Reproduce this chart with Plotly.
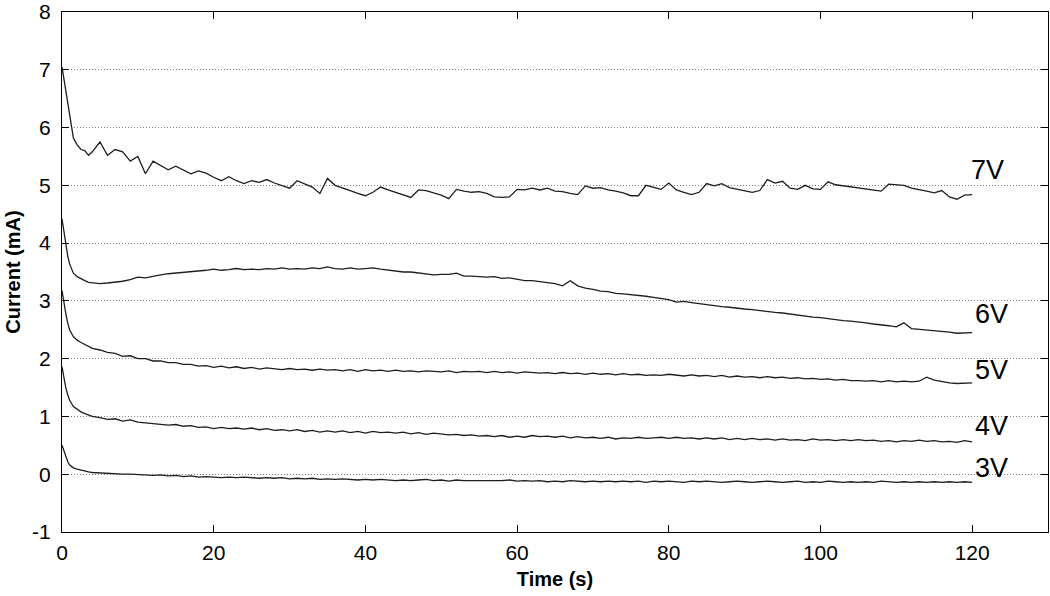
import plotly.graph_objects as go

# Sampling times (s)
time_s = [0, 0.25, 0.5, 0.75, 1, 1.5, 2, 2.5, 3, 3.5, 4,
          5, 6, 7, 8, 9, 10, 11, 12, 13, 14,
          15, 16, 17, 18, 19, 20, 21, 22, 23, 24,
          25, 26, 27, 28, 29, 30, 31, 32, 33, 34,
          35, 36, 37, 38, 39, 40, 41, 42, 43, 44,
          45, 46, 47, 48, 49, 50, 51, 52, 53, 54,
          55, 56, 57, 58, 59, 60, 61, 62, 63, 64,
          65, 66, 67, 68, 69, 70, 71, 72, 73, 74,
          75, 76, 77, 78, 79, 80, 81, 82, 83, 84,
          85, 86, 87, 88, 89, 90, 91, 92, 93, 94,
          95, 96, 97, 98, 99, 100, 101, 102, 103, 104,
          105, 106, 107, 108, 109, 110, 111, 112, 113, 114,
          115, 116, 117, 118, 119, 120]

current_7v = [7.05, 6.85, 6.6, 6.38, 6.2, 5.82, 5.7, 5.62, 5.6, 5.52, 5.58,
              5.75, 5.52, 5.62, 5.58, 5.42, 5.5, 5.2, 5.42, 5.35, 5.27,
              5.33, 5.26, 5.2, 5.25, 5.21, 5.14, 5.08, 5.15, 5.08, 5.03,
              5.08, 5.05, 5.1, 5.04, 5.0, 4.95, 5.08, 5.02, 4.97, 4.86,
              5.12, 5.0, 4.96, 4.91, 4.86, 4.82, 4.88, 4.97, 4.92, 4.88,
              4.84, 4.79, 4.92, 4.91, 4.87, 4.83, 4.77, 4.93, 4.9, 4.88,
              4.89, 4.86, 4.8, 4.79, 4.8, 4.93, 4.92, 4.95, 4.92, 4.95,
              4.9, 4.89, 4.86, 4.84, 4.99, 4.95, 4.96, 4.92, 4.9, 4.87,
              4.82, 4.82, 5.0, 4.96, 4.93, 5.04, 4.92, 4.88, 4.84, 4.88,
              5.03, 4.99, 5.03, 4.96, 4.93, 4.9, 4.88, 4.91, 5.1, 5.04,
              5.07, 4.95, 4.93, 5.0, 4.94, 4.93, 5.06, 5.01, 4.99, 4.97,
              4.96, 4.94, 4.92, 4.9, 5.02, 5.01, 5.0, 4.95, 4.93, 4.9,
              4.87, 4.91, 4.8, 4.76, 4.83, 4.84]

current_6v = [4.42, 4.2, 3.98, 3.78, 3.64, 3.48, 3.42, 3.38, 3.35, 3.32, 3.31,
              3.3, 3.31, 3.32, 3.34, 3.37, 3.41, 3.4, 3.43, 3.45, 3.47,
              3.48, 3.5, 3.51, 3.52, 3.53, 3.55, 3.53, 3.54, 3.56, 3.54,
              3.55, 3.54, 3.56, 3.55, 3.57, 3.55, 3.56, 3.55, 3.57, 3.56,
              3.59, 3.56, 3.55, 3.57, 3.55, 3.56, 3.57, 3.55, 3.53, 3.52,
              3.5, 3.5, 3.48, 3.47, 3.45, 3.46, 3.46, 3.48, 3.43, 3.43,
              3.42, 3.41, 3.42, 3.39, 3.4, 3.37, 3.35, 3.35, 3.33, 3.32,
              3.3, 3.26, 3.35, 3.26, 3.22, 3.2, 3.17, 3.16, 3.13, 3.12,
              3.11, 3.09, 3.08, 3.06, 3.04, 3.02, 2.98, 2.99, 2.97, 2.95,
              2.93, 2.92, 2.9, 2.89, 2.87, 2.86, 2.85, 2.83, 2.82, 2.8,
              2.79, 2.77, 2.76, 2.74, 2.72, 2.71, 2.69, 2.68, 2.66, 2.65,
              2.64, 2.62, 2.6, 2.59, 2.57, 2.55, 2.62, 2.52, 2.51, 2.49,
              2.48, 2.47, 2.46, 2.44, 2.45, 2.45]

current_5v = [3.18, 2.95, 2.78, 2.62, 2.5, 2.38, 2.32, 2.28, 2.25, 2.21, 2.18,
              2.15, 2.11, 2.09, 2.04, 2.05, 2.0, 2.0, 1.96, 1.96, 1.93,
              1.93, 1.9, 1.9, 1.87, 1.88, 1.85, 1.87, 1.84, 1.86, 1.83,
              1.85, 1.82, 1.84, 1.83, 1.81, 1.83, 1.81, 1.82, 1.8, 1.82,
              1.8, 1.81, 1.79, 1.81, 1.78, 1.81, 1.79, 1.8, 1.78, 1.8,
              1.78, 1.79, 1.77, 1.79, 1.78, 1.77, 1.79, 1.76, 1.78, 1.77,
              1.78, 1.76, 1.78, 1.76, 1.77, 1.75, 1.77, 1.76, 1.75, 1.76,
              1.74, 1.76, 1.74, 1.75, 1.73, 1.75, 1.73, 1.74, 1.72, 1.74,
              1.72, 1.73, 1.71, 1.72, 1.71, 1.73, 1.72, 1.7, 1.72, 1.7,
              1.71, 1.69, 1.71, 1.68, 1.7, 1.68, 1.69, 1.67, 1.69, 1.67,
              1.68, 1.66, 1.67, 1.65, 1.66, 1.64, 1.65, 1.63, 1.64, 1.62,
              1.62, 1.61, 1.62, 1.6, 1.62, 1.6, 1.61, 1.6, 1.61, 1.68,
              1.63, 1.6, 1.58, 1.57, 1.58, 1.58]

current_4v = [1.86, 1.65, 1.5, 1.38, 1.28, 1.17, 1.12, 1.08, 1.05, 1.03, 1.0,
              0.98, 0.95, 0.96, 0.92, 0.94, 0.9, 0.89, 0.88, 0.87, 0.85,
              0.86, 0.83, 0.84, 0.81, 0.82, 0.79, 0.81, 0.79, 0.8, 0.78,
              0.8, 0.77, 0.79, 0.76, 0.77, 0.75, 0.77, 0.74, 0.76, 0.73,
              0.75, 0.73, 0.75, 0.72, 0.74, 0.71, 0.74, 0.72, 0.73, 0.71,
              0.73, 0.7, 0.72, 0.69, 0.71, 0.7, 0.68, 0.69, 0.67, 0.68,
              0.66, 0.67, 0.65, 0.67, 0.64, 0.66, 0.64, 0.67, 0.65, 0.66,
              0.64, 0.66, 0.63, 0.65, 0.63, 0.64, 0.62, 0.64, 0.61, 0.63,
              0.62, 0.64, 0.62, 0.63, 0.64, 0.62, 0.64, 0.62, 0.63, 0.61,
              0.63, 0.61, 0.63, 0.6, 0.62, 0.6, 0.62, 0.6, 0.61, 0.59,
              0.61, 0.59, 0.6, 0.58, 0.61, 0.59, 0.6, 0.58, 0.6, 0.58,
              0.6, 0.58, 0.59, 0.57, 0.58, 0.56, 0.58, 0.57, 0.59, 0.57,
              0.58, 0.56, 0.57, 0.55, 0.58, 0.56]

current_3v = [0.5, 0.4, 0.32, 0.22, 0.16, 0.11, 0.09, 0.07, 0.05, 0.04, 0.03,
              0.02, 0.01, 0.01, 0.0, 0.0, -0.01, -0.01, -0.02, -0.01, -0.03,
              -0.02, -0.04, -0.03, -0.05, -0.04, -0.05, -0.06, -0.05, -0.06, -0.05,
              -0.06, -0.07, -0.06, -0.07, -0.06, -0.08, -0.07, -0.08, -0.07, -0.09,
              -0.08, -0.09, -0.08, -0.09, -0.1, -0.09, -0.1, -0.09, -0.1, -0.11,
              -0.1, -0.11, -0.1, -0.09, -0.11, -0.1, -0.12, -0.1, -0.11, -0.11,
              -0.12, -0.11, -0.12, -0.11, -0.1, -0.12, -0.11, -0.12, -0.11, -0.13,
              -0.12, -0.13, -0.11, -0.12, -0.13, -0.12, -0.13, -0.12, -0.13, -0.12,
              -0.13, -0.12, -0.14, -0.12, -0.13, -0.12, -0.13, -0.14, -0.12, -0.13,
              -0.12, -0.13, -0.14, -0.13, -0.12, -0.13, -0.14, -0.13, -0.12, -0.13,
              -0.14, -0.13, -0.12, -0.14, -0.13, -0.14, -0.12, -0.13, -0.14, -0.13,
              -0.14, -0.13, -0.14, -0.12, -0.13, -0.14, -0.13, -0.14, -0.13, -0.14,
              -0.13, -0.14, -0.13, -0.14, -0.13, -0.14]

series_labels = ["7V", "6V", "5V", "4V", "3V"]
label_x = [122, 122.6, 122.6, 122.6, 122.6]
label_y = [5.26, 2.77, 1.81, 0.84, 0.1]

x_tick_vals = [0, 20, 40, 60, 80, 100, 120]
x_tick_text = ["0", "20", "40", "60", "80", "100", "120"]
y_tick_vals = [-1, 0, 1, 2, 3, 4, 5, 6, 7, 8]
y_tick_text = ["-1", "0", "1", "2", "3", "4", "5", "6", "7", "8"]

series = [current_7v, current_6v, current_5v, current_4v, current_3v]

FONT = "Liberation Sans, Arial, Helvetica, sans-serif"

fig = go.Figure()
for name, vals in zip(series_labels, series):
    fig.add_trace(go.Scatter(x=time_s, y=vals, mode="lines", name=name,
                             line=dict(color="#1e1e1e", width=1.3),
                             showlegend=False))

for name, lx, ly in zip(series_labels, label_x, label_y):
    fig.add_annotation(x=lx, y=ly, text=name, showarrow=False,
                       font=dict(size=27, color="black", family=FONT))

tick_font = dict(size=21, color="black", family=FONT)
title_font = dict(size=20, color="black", family=FONT)
fig.update_xaxes(range=[0, 130], tickvals=x_tick_vals, ticktext=x_tick_text,
                 showgrid=False, automargin=False, ticklabeloverflow="allow",
                 ticklabelstandoff=2,
                 zeroline=False, showline=True, linecolor="black", linewidth=1,
                 mirror="ticks", ticks="inside", ticklen=7, tickcolor="black",
                 tickfont=tick_font,
                 title=dict(text="<b>Time (s)</b>", font=title_font, standoff=8))
fig.update_yaxes(range=[-1, 8], tickvals=y_tick_vals, ticktext=y_tick_text,
                 showgrid=True, automargin=False, ticklabeloverflow="allow",
                 ticklabelstandoff=6,
                 gridcolor="#808080", griddash="1px,2px", gridwidth=1,
                 zeroline=False, showline=True, linecolor="black", linewidth=1,
                 mirror="ticks", ticks="inside", ticklen=7, tickcolor="black",
                 tickfont=tick_font,
                 title=dict(text="<b>Current (mA)</b>", font=title_font, standoff=6))
fig.update_layout(width=1050, height=596,
                  margin=dict(l=62, r=2, t=12, b=64),
                  plot_bgcolor="white", paper_bgcolor="white")

fig.write_html("out.html", config={"displayModeBar": False},
               post_script="document.body.style.margin='0px';document.body.style.overflow='hidden';")
